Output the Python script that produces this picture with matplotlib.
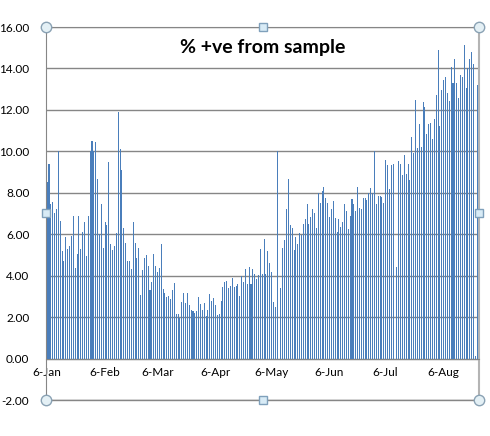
import numpy as np
import pandas as pd
import matplotlib
matplotlib.use("Agg")
import matplotlib.pyplot as plt

plt.rcParams['font.family'] = ['Lato', 'DejaVu Sans']

# daily % positive, starting 6-Jan (nan = no value that day)
start_date = '2021-01-06'
pct_positive = [
    # Jan 6 - Feb 3
    8.5, 9.4, 7.45, 7.55, 7.0, 7.2, 10.0, 6.65, 5.2, 4.7, 5.85, 5.3, 5.45, 5.9, 6.9,
    4.35, 5.05, 6.9, 5.3, 6.1, 6.6, 4.95, 6.9, 10.0, 10.5, 10.0, 10.45, 8.65, 6.0,
    # Feb
    7.45, 5.35, 6.6, 6.45, 9.5, 5.55, 5.25, 5.45, 6.05, 11.9, 10.1, 9.1, 6.3, 5.6, 4.7,
    4.7, 4.3, 6.6, 5.6, 4.85, 5.35, 3.05, 4.25, 4.85, 5.0, 4.45, 3.3, 3.7, 5.05,
    # Mar
    4.45, 4.2, 4.35, 5.55, 3.35, 3.15, 2.95, 3.0, 2.85, 3.3, 3.65, 2.15, 2.15, 1.95, 2.75,
    3.15, 2.7, 3.15, 2.6, 2.35, 2.3, 2.2, 2.3, 2.95, 2.65, 2.35, 2.7, 2.05, 2.35,
    # Apr
    3.1, 2.8, 2.9, 2.6, 2.1, 2.15, 2.8, 3.45, 3.7, 3.75, 3.4, 3.5, 3.9, 3.45, 3.5,
    3.6, 3.0, 4.0, 3.7, 4.3, 3.6, 4.4, 3.6, 4.3, 4.1, 3.85, 4.05, 5.3, 4.1,
    # May
    5.75, 4.1, 5.2, 4.6, 4.2, 2.75, 2.5, 10.0, np.nan, 3.4, 5.35, 5.7, 7.2, 8.65, 6.45,
    6.3, 5.25, 5.85, 5.55, 6.05, 5.95, 6.5, 6.75, 7.45, 6.5, 6.85, 7.2, 7.0, 6.3,
    # Jun
    8.0, 7.5, 8.1, 8.3, 7.75, 7.5, 6.85, 7.2, 7.6, 6.8, 6.1, 6.75, 6.35, 6.6, 7.45,
    7.1, 6.25, 6.9, 7.7, 7.45, 7.1, 8.3, 7.25, 7.2, 7.75, 7.75, 7.65, 8.0, 8.25,
    # Jul
    8.0, 10.0, 7.45, 7.85, 7.85, 7.8, 7.5, 9.6, 9.35, 8.2, 9.35, 9.4, np.nan, 4.4, 9.55,
    9.4, 8.85, 9.8, 8.9, 9.4, 8.6, 10.7, 9.9, 12.5, 10.15, 11.3, 10.2, 12.4, 12.15, 10.85,
    # Aug
    11.3, 11.35, 10.6, 11.55, 12.7, 14.9, 11.2, 12.95, 13.45, 13.6, 12.8, 12.45, 14.05,
    13.3, 14.45, 13.3, 12.55, 13.7, 13.6, 15.15, 13.05, 14.0, 14.45, 14.8, 14.2, 0.12, 13.2,
]
tick_dates = ['2021-01-06', '2021-02-06', '2021-03-06', '2021-04-06',
              '2021-05-06', '2021-06-06', '2021-07-06', '2021-08-06']
tick_labels = ['6-Jan', '6-Feb', '6-Mar', '6-Apr', '6-May', '6-Jun', '6-Jul', '6-Aug']
y_ticks = [-2, 0, 2, 4, 6, 8, 10, 12, 14, 16]
title = '% +ve from sample'

dates = pd.date_range(start_date, periods=len(pct_positive), freq='D')
t0 = pd.Timestamp(start_date)
x = np.array([(d - t0).days for d in dates])
tick_x = [(pd.Timestamp(d) - t0).days for d in tick_dates]

fig = plt.figure(figsize=(4.9, 4.36), dpi=100)
ax = fig.add_axes([46 / 490, 1 - 400 / 436, 433 / 490, 373 / 436])
ax.set_axisbelow(True)

ax.bar(x, pct_positive, width=0.55, color='#4a7ebb', linewidth=0,
       antialiased=False, zorder=3)

ax.set_ylim(-2, 16)
ax.set_xlim(-0.6, x[-1] + 0.9)
ax.set_yticks(y_ticks)
ax.set_yticklabels([f'{v:.2f}' for v in y_ticks])
ax.set_xticks(tick_x)
ax.set_xticklabels(tick_labels)
ax.tick_params(axis='y', length=0, pad=12, labelsize=8.5, colors='black')
ax.tick_params(axis='x', length=0, pad=6, labelsize=8.5, colors='black')

ax.grid(axis='y', color='#868686', linewidth=1)
ax.grid(axis='x', visible=False)

# x axis sits at 0, frame line at -2
ax.spines['bottom'].set_position(('data', 0))
ax.spines['bottom'].set_color('#868686')
ax.spines['left'].set_color('#868686')
ax.spines['top'].set_color('#868686')
ax.spines['right'].set_color('#b4b4b4')
ax.spines['right'].set_linewidth(1.5)
ax.plot([0, 1], [0, 0], transform=ax.transAxes, color='#868686', lw=1, clip_on=False)

ax.text(0.5, 0.944, title, transform=ax.transAxes, ha='center', va='center',
        fontsize=14, fontweight='bold')

# selection handles of the plot area
ax.plot([0, 1, 0, 1], [0, 0, 1, 1], 'o', transform=ax.transAxes, clip_on=False,
        markersize=7.5, markerfacecolor='#e4f0f5', markeredgecolor='#8aa2b4',
        markeredgewidth=1, zorder=5)
ax.plot([0.5, 0.5, 0, 1], [0, 1, 0.5, 0.5], 's', transform=ax.transAxes, clip_on=False,
        markersize=5.5, markerfacecolor='#d8ebf6', markeredgecolor='#7fa0bb',
        markeredgewidth=1, zorder=5)

fig.savefig('out.png', dpi=100)
